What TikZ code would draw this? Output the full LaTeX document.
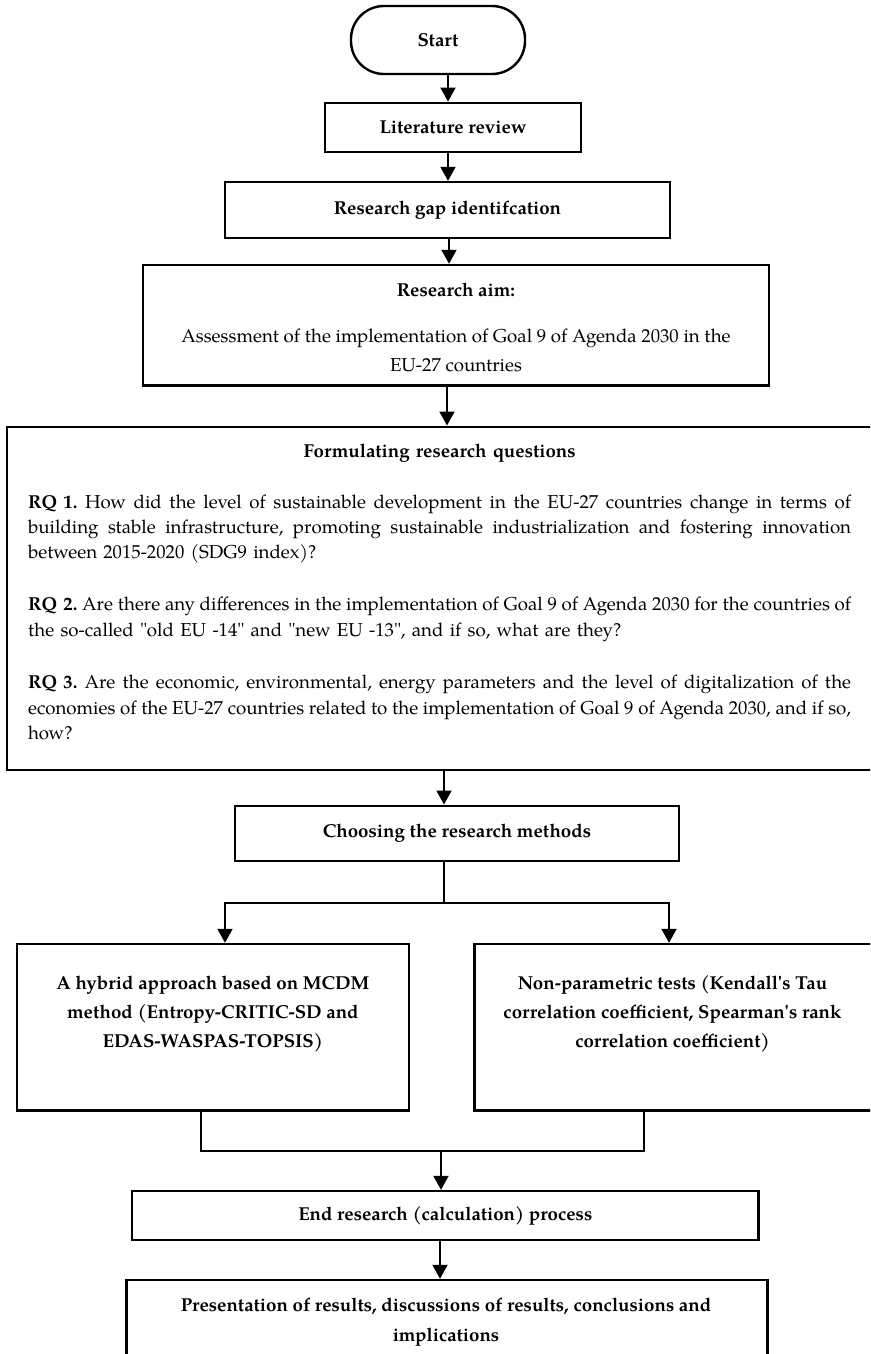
\documentclass[tikz,border=0pt]{standalone}
\usepackage{fontspec}
\setmainfont{texgyrepagella}[Extension=.otf,UprightFont=*-regular,BoldFont=*-bold,ItalicFont=*-italic,BoldItalicFont=*-bolditalic]
\usetikzlibrary{arrows.meta,calc}
\newcommand\myfs{\fontsize{18.7}{29}\selectfont}
\newcommand\rqfs{\fontsize{18.7}{25.3}\selectfont\frenchspacing}
% a justified line of fixed width: words separated by stretchable glue
\def\jline#1{\leavevmode\hbox to 823pt{\jlA#1 \jlend}}
\def\jlA#1 #2\jlend{#1\if\relax\detokenize{#2}\relax\else\hskip 0.2em plus 1fil minus 0.12em\relax\jlA#2\jlend\fi}
\tikzset{
  box/.style={draw, line width=2.4pt, inner sep=0pt, font=\myfs\bfseries, align=center},
  txt/.style={inner sep=0pt, font=\myfs\bfseries, align=center},
  conn/.style={line width=2pt},
  arr/.style={conn, -{Triangle[length=14pt,width=15pt]}},
}
\begin{document}
\begin{tikzpicture}[x=1pt,y=-1pt]
\useasboundingbox (0,0) rectangle (870,1354);
\fill[white] (0,0) rectangle (870,1354);
\clip (0,0) rectangle (870,1354);

% nodes
\node[box, minimum width=174pt, minimum height=68pt, rounded corners=33pt] (start) at (438,40) {Start};
\node[box, minimum width=256pt, minimum height=49.5pt] (lit) at (453,127.5) {Literature review};
\node[box, minimum width=445pt, minimum height=56pt] (gap) at (447.5,210) {Research gap identifcation};
\node[box, minimum width=626pt, minimum height=120.7pt] (aim) at (456,325.3) {};
\node[txt] (aimtext) at (456,327.5)
  {Research aim:\\[17pt]{\mdseries Assessment of the implementation of Goal 9 of Agenda 2030 in the}\\{\mdseries EU-27 countries}};
\node[box, minimum width=865.3pt, minimum height=343.3pt] (rq) at (439.35,598.35) {};
\node[inner sep=0pt, anchor=base west, text width=823pt, align=left, font=\rqfs] (rqtext) at (27.9,457.5)
{\makebox[823pt]{\bfseries Formulating research questions}\\[25.5pt]
\jline{\textbf{RQ 1.} How did the level of sustainable development in the EU-27 countries change in terms of}\\
\jline{building stable infrastructure, promoting sustainable industrialization and fostering innovation}\\
between 2015-2020 (SDG9 index)?\\[26.5pt]
\jline{\textbf{RQ 2.} Are there any differences in the implementation of Goal 9 of Agenda 2030 for the countries of}\\
the so-called \textquotedbl old EU -14\textquotedbl{} and \textquotedbl new EU -13\textquotedbl, and if so, what are they?\\[27.5pt]
\jline{\textbf{RQ 3.} Are the economic, environmental, energy parameters and the level of digitalization of the}\\
\jline{economies of the EU-27 countries related to the implementation of Goal 9 of Agenda 2030, and if so,}\\
how?};
\node[box, minimum width=444pt, minimum height=55pt] (choose) at (457,833.2) {Choosing the research methods};
\node[box, minimum width=392.3pt, minimum height=166.5pt] (left) at (212.85,1027.25) {};
\node[txt, font=\fontsize{18.7}{28.7}\selectfont\bfseries] (lefttext) at (212.85,1014)
  {A hybrid approach based on MCDM\\method (Entropy-CRITIC-SD and\\EDAS-WASPAS-TOPSIS)};
\node[box, minimum width=397.5pt, minimum height=166.5pt] (right) at (673.25,1027.25) {};
\node[txt, font=\fontsize{18.7}{28.7}\selectfont\bfseries] (righttext) at (672.5,1014)
  {Non-parametric tests (Kendall\textquotesingle s Tau\\correlation coefficient, Spearman\textquotesingle s rank\\correlation coefficient)};
\node[box, minimum width=626.6pt, minimum height=49pt] (end) at (445.3,1215.5) {End research (calculation) process};
\node[box, minimum width=641pt, minimum height=120pt] (pres) at (447,1340) {};
\node[txt, font=\fontsize{18.7}{30}\selectfont\bfseries] (prestext) at (446,1322)
  {Presentation of results, discussions of results, conclusions and\\implications};

% helper coordinates
\coordinate (c1) at (448,0);
\coordinate (c2) at (449,0);
\coordinate (c3) at (447,0);
\coordinate (split) at (444,903);
\coordinate (lx) at (225,903);
\coordinate (rx) at (669,903);
\coordinate (ml) at (201,1150.7);
\coordinate (mr) at (644,1150.7);
\coordinate (merge) at (441,1150.7);
\coordinate (c4) at (440,0);

% connectors
\draw[arr] (start.south -| c1) -- (lit.north -| c1);
\draw[arr] (lit.south -| c1) -- (gap.north -| c1);
\draw[arr] (gap.south -| c2) -- (aim.north -| c2);
\draw[arr] (aim.south -| c3) -- (rq.north -| c3);
\draw[arr] (rq.south -| split) -- (choose.north -| split);
\draw[conn] (choose.south -| split) -- (split);
\draw[arr] (split) -| (lx |- left.north);
\draw[arr] (split) -| (rx |- right.north);
\draw[conn] (ml |- left.south) -- (ml) -- (mr) -- (mr |- right.south);
\draw[arr] (merge) -- (merge |- end.north);
\draw[arr] (end.south -| c4) -- (pres.north -| c4);
\end{tikzpicture}
\end{document}
